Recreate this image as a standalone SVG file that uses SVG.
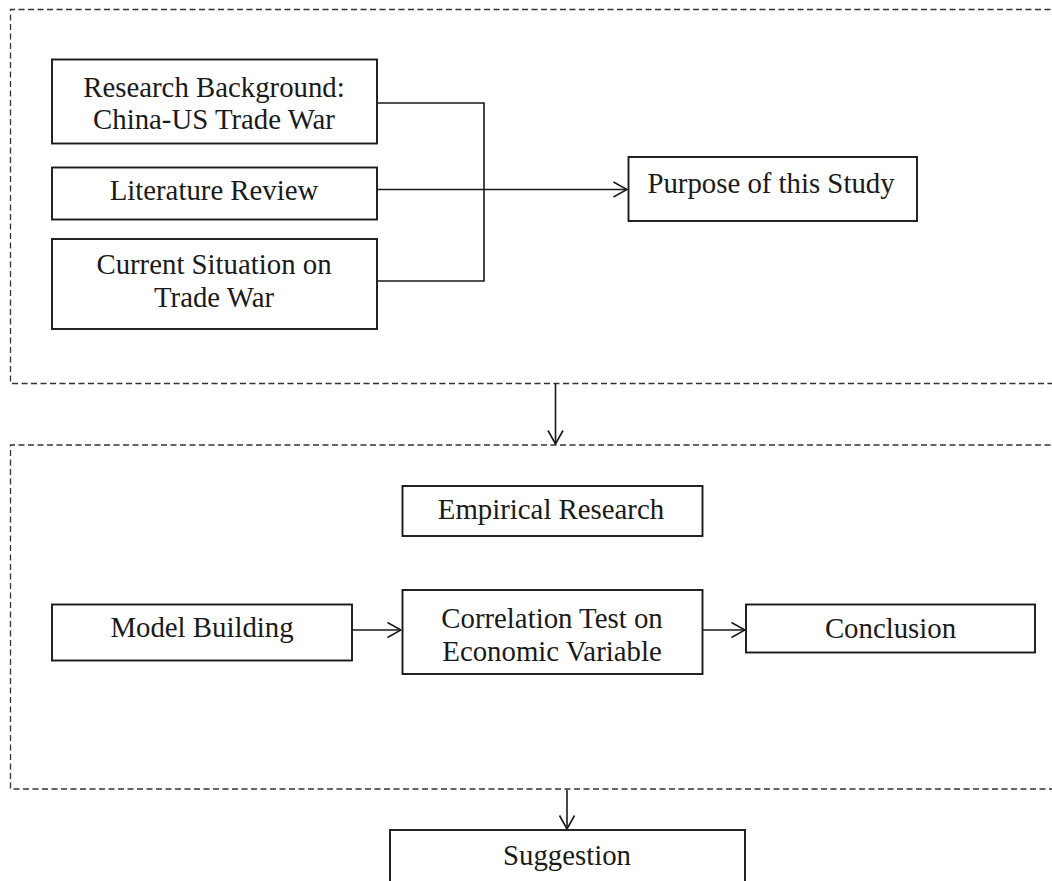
<svg xmlns="http://www.w3.org/2000/svg" width="1052" height="881" viewBox="0 0 1052 881">
<style>
.frame{fill:none;stroke:#333;stroke-width:1.3;stroke-dasharray:6,3.5}
.box{fill:#fff;stroke:#1a1a1a;stroke-width:1.9}
.line{fill:none;stroke:#1a1a1a;stroke-width:1.6}
text{font-family:"Liberation Serif","Times New Roman",serif;font-size:28.8px;fill:#1a1a1a;text-anchor:middle}
</style>
<defs>
<marker id="arr" viewBox="0 0 16 18" refX="15" refY="9" markerWidth="16" markerHeight="18" markerUnits="userSpaceOnUse" orient="auto">
<path d="M1.5,1.5 L15,9 L1.5,16.5" fill="none" stroke="#1a1a1a" stroke-width="1.6"/>
</marker>
</defs>
<g id="frames">
<path class="frame" d="M1060,9.5 H10.5 V383.5 H1060"/>
<path class="frame" d="M1060,445 H10.5 V789 H1060"/>
</g>
<g id="connectors">
<path class="line" d="M377,103 H484 V281 H377"/>
<path class="line" d="M377,189.5 H627" marker-end="url(#arr)"/>
<path class="line" d="M555.5,383.5 V444" marker-end="url(#arr)"/>
<path class="line" d="M352,630 H401" marker-end="url(#arr)"/>
<path class="line" d="M703,630 H745" marker-end="url(#arr)"/>
<path class="line" d="M567,790 V829" marker-end="url(#arr)"/>
</g>
<g id="n-background">
<rect class="box" x="52" y="59.5" width="325" height="84"/>
<text x="214" y="97">Research Background:</text>
<text x="214" y="129">China-US Trade War</text>
</g>
<g id="n-literature">
<rect class="box" x="52" y="167.5" width="325" height="52"/>
<text x="214" y="200">Literature Review</text>
</g>
<g id="n-current">
<rect class="box" x="52" y="239" width="325" height="90"/>
<text x="214" y="274">Current Situation on</text>
<text x="214" y="307">Trade War</text>
</g>
<g id="n-purpose">
<rect class="box" x="628.5" y="157" width="288.5" height="64"/>
<text x="771" y="193">Purpose of this Study</text>
</g>
<g id="n-empirical">
<rect class="box" x="402.5" y="486" width="300" height="50"/>
<text x="551" y="519">Empirical Research</text>
</g>
<g id="n-model">
<rect class="box" x="52" y="604.5" width="300" height="56"/>
<text x="202" y="637">Model Building</text>
</g>
<g id="n-correlation">
<rect class="box" x="402.5" y="590" width="300" height="84"/>
<text x="552" y="627.5">Correlation Test on</text>
<text x="552" y="661">Economic Variable</text>
</g>
<g id="n-conclusion">
<rect class="box" x="746" y="604.5" width="289" height="48"/>
<text x="890.5" y="638">Conclusion</text>
</g>
<g id="n-suggestion">
<rect class="box" x="390" y="830" width="355" height="70"/>
<text x="567" y="865">Suggestion</text>
</g>
</svg>
